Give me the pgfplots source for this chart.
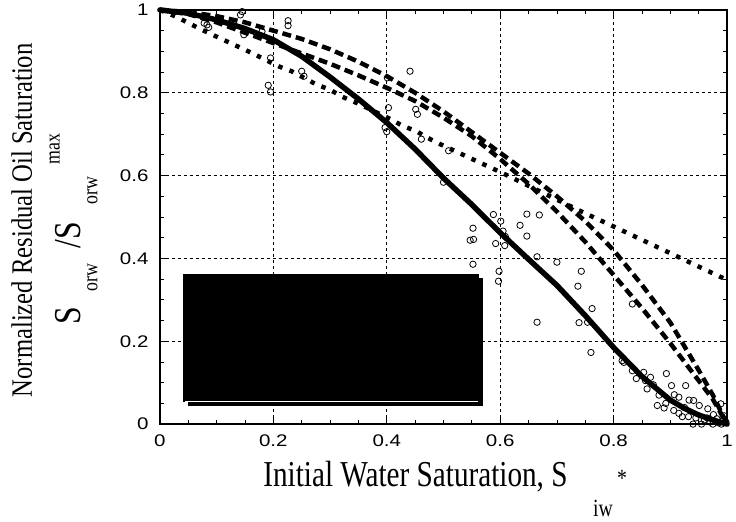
\documentclass[border=0pt]{standalone}
\usepackage{fontspec}
\setmainfont{Liberation Serif}
\newfontfamily\arialf{Liberation Sans}
\usepackage{graphicx}
\usepackage{pgfplots}
\pgfplotsset{compat=1.18}
\begin{document}
\begin{tikzpicture}
\begin{axis}[
 scale only axis, width=571bp, height=417bp,
 xmin=0,xmax=1,ymin=0,ymax=1,
 xtick={0,0.2,0.4,0.6,0.8,1}, ytick={0,0.2,0.4,0.6,0.8,1},
 minor x tick num=3, minor y tick num=3,
 grid=major, grid style={black, line width=0.6bp, dash pattern=on 3bp off 3bp},
 axis line style={line width=1.3bp},
 major tick length=7bp, minor tick length=4bp,
 tick style={black, line width=0.8bp},
 /pgf/number format/assume math mode=true,
 xticklabel={\scalebox{1.22}[1]{\arialf\fontsize{17}{17}\selectfont\pgfmathprintnumber{\tick}}},
 yticklabel={\scalebox{1.22}[1]{\arialf\fontsize{17}{17}\selectfont\pgfmathprintnumber{\tick}}},
 xticklabel style={yshift=-7bp},
 yticklabel style={xshift=-8bp},
 clip=false,
]
% open circles (data)
\addplot[only marks, mark=o, mark size=3.2bp, mark options={line width=0.8bp, black}] coordinates {
(0.145,0.996)(0.142,0.988)(0.083,0.964)(0.086,0.958)(0.078,0.968)(0.148,0.94)(0.226,0.974)(0.226,0.962)
(0.18,0.948)(0.195,0.884)(0.191,0.818)(0.195,0.802)(0.25,0.852)(0.254,0.84)(0.401,0.836)(0.441,0.852)
(0.403,0.764)(0.451,0.76)(0.454,0.748)(0.397,0.716)(0.40,0.706)(0.461,0.688)(0.50,0.584)(0.509,0.66)
(0.588,0.506)(0.601,0.49)(0.605,0.466)(0.609,0.453)(0.592,0.436)(0.608,0.431)(0.552,0.473)(0.547,0.444)
(0.553,0.446)(0.635,0.48)(0.647,0.507)(0.669,0.505)(0.647,0.454)(0.665,0.404)(0.552,0.386)(0.598,0.369)
(0.597,0.345)(0.70,0.391)(0.665,0.246)(0.743,0.369)(0.737,0.333)(0.762,0.279)(0.739,0.245)(0.754,0.246)
(0.76,0.173)(0.815,0.153)(0.833,0.29)(0.818,0.149)(0.833,0.129)(0.853,0.125)(0.856,0.105)(0.859,0.085)
(0.865,0.113)(0.893,0.122)(0.902,0.093)(0.927,0.093)(0.877,0.045)(0.889,0.039)(0.892,0.05)(0.907,0.071)
(0.915,0.065)(0.906,0.033)(0.915,0.026)(0.921,0.018)(0.933,0.058)(0.941,0.057)(0.951,0.045)(0.94,0.0)
(0.932,0.018)(0.966,0.037)(0.976,0.023)(0.989,0.049)(0.982,0.013)(0.96,0.01)(0.97,0.005)(0.985,0.003)
(0.993,0.01)(0.995,0.02)(0.975,0.0)(0.955,0.0)(0.99,0.0)(0.998,0.005)(0.945,0.015)(0.965,0.015)
(0.925,0.04)(0.87,0.095)(0.88,0.07)(0.84,0.11)
};
% thick solid curve
\addplot[black, line width=5.5bp, line join=round, line cap=round] coordinates {
(0,1)(0.05,0.992)(0.1,0.976)(0.15,0.955)(0.2,0.928)(0.25,0.888)(0.3,0.838)(0.35,0.785)(0.4,0.728)
(0.45,0.664)(0.5,0.594)(0.55,0.53)(0.6,0.462)(0.65,0.398)(0.7,0.335)(0.75,0.262)(0.8,0.185)
(0.85,0.115)(0.9,0.058)(0.925,0.038)(0.95,0.022)(0.975,0.01)(1,0)
};
% dashed curve A
\addplot[black, line width=4.5bp, dash pattern=on 9bp off 5bp] coordinates {
(0,1)(0.05,0.995)(0.1,0.985)(0.15,0.97)(0.2,0.95)(0.25,0.93)(0.3,0.905)(0.35,0.875)(0.4,0.84)
(0.45,0.80)(0.5,0.755)(0.55,0.705)(0.6,0.655)(0.65,0.605)(0.7,0.55)(0.75,0.49)(0.8,0.42)
(0.85,0.336)(0.9,0.245)(0.95,0.13)(0.975,0.07)(1,0)
};
% dashed curve B
\addplot[black, line width=4.5bp, dash pattern=on 9bp off 5bp] coordinates {
(0,1)(0.05,0.99)(0.1,0.97)(0.15,0.945)(0.2,0.92)(0.25,0.895)(0.3,0.87)(0.35,0.842)(0.4,0.812)
(0.45,0.78)(0.5,0.74)(0.55,0.695)(0.6,0.64)(0.65,0.58)(0.7,0.513)(0.75,0.44)(0.8,0.36)
(0.85,0.28)(0.9,0.195)(0.95,0.105)(0.975,0.06)(1,0)
};
% dotted curve C
\addplot[black, line width=4.5bp, dash pattern=on 4.5bp off 7.5bp] coordinates {
(0,1)(0.028,0.984)(0.074,0.952)(0.118,0.924)(0.162,0.896)(0.209,0.864)(0.232,0.852)(0.276,0.82)
(0.299,0.808)(0.322,0.79)(0.346,0.776)(0.363,0.765)(0.407,0.736)(0.428,0.72)(0.451,0.708)(0.471,0.692)
(0.494,0.676)(0.538,0.648)(0.601,0.608)(0.745,0.512)(0.808,0.472)(0.904,0.41)(1,0.348)
};
% legend box (rendered black)
\fill[black] (axis cs:0.0495,0.043) rectangle (axis cs:0.570,0.352);
\fill[black] (axis cs:0.041,0.054) rectangle (axis cs:0.562,0.363);
\draw[white, line width=0.8bp] (axis cs:0.044,0.056) -- (axis cs:0.560,0.056);
% x label
\node[anchor=base west, inner sep=0] at ([xshift=104bp, yshift=-63bp]rel axis cs:0,0)
 {\scalebox{1}[1.25]{\fontsize{29.5}{30}\selectfont Initial Water Saturation, S}};
\node[anchor=base west, inner sep=0] at ([xshift=436bp, yshift=-93bp]rel axis cs:0,0)
 {\scalebox{1}[1.25]{\fontsize{20}{20}\selectfont iw}};
\node[anchor=base west, inner sep=0] at ([xshift=460bp, yshift=-63bp]rel axis cs:0,0)
 {\scalebox{1}[1.25]{\fontsize{20}{20}\selectfont *}};
% y label
\node[rotate=90, anchor=center, inner sep=0] at ([xshift=-139bp]rel axis cs:0,0.492)
 {\scalebox{1}[1.2]{\fontsize{24.9}{25}\selectfont Normalized Residual Oil Saturation}};
\node[rotate=90, anchor=base, inner sep=0] at ([xshift=-80bp]rel axis cs:0,0.262)
 {\scalebox{1}[1.2]{\fontsize{32}{32}\selectfont S}};
\node[rotate=90, anchor=base, inner sep=0] at ([xshift=-63bp]rel axis cs:0,0.353)
 {\scalebox{1}[1.2]{\fontsize{18}{18}\selectfont orw}};
\node[rotate=90, anchor=base, inner sep=0] at ([xshift=-80bp]rel axis cs:0,0.456)
 {\scalebox{1}[1.2]{\fontsize{32}{32}\selectfont /S}};
\node[rotate=90, anchor=base, inner sep=0] at ([xshift=-63bp]rel axis cs:0,0.564)
 {\scalebox{1}[1.2]{\fontsize{18}{18}\selectfont orw}};
\node[rotate=90, anchor=base, inner sep=0] at ([xshift=-101bp]rel axis cs:0,0.664)
 {\scalebox{1}[1.2]{\fontsize{18}{18}\selectfont max}};
\end{axis}
\pgfresetboundingbox
\path ([xshift=-161bp,yshift=-98bp]current axis.south west) rectangle ([xshift=9bp,yshift=10bp]current axis.north east);
\end{tikzpicture}
\end{document}
